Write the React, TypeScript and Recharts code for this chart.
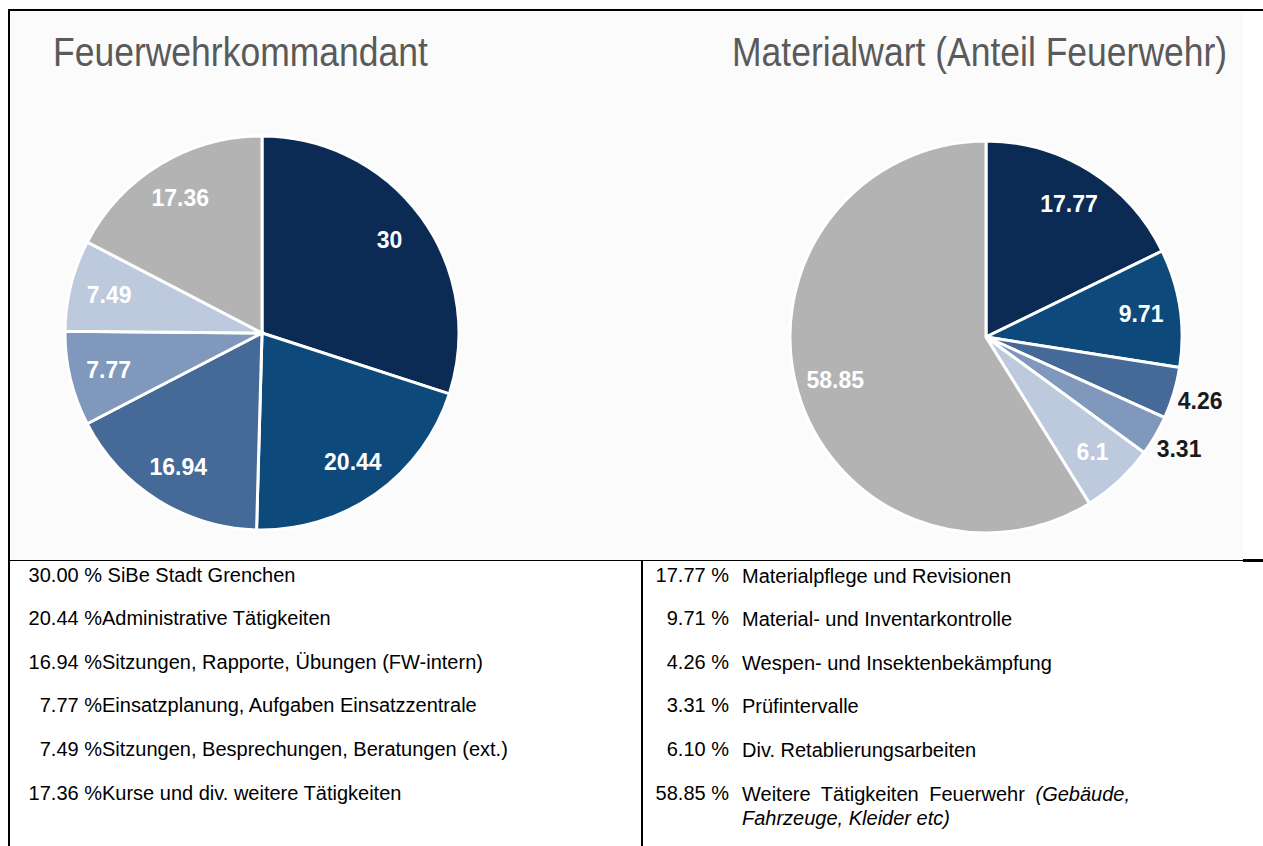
import React from 'react';
import { PieChart, Pie, Cell } from 'recharts';

// Feuerwehrkommandant
const kommandantValues = [30, 20.44, 16.94, 7.77, 7.49, 17.36];
const kommandantTasks = [
  '\u00a0SiBe Stadt Grenchen',
  'Administrative Tätigkeiten',
  'Sitzungen, Rapporte, Übungen (FW-intern)',
  'Einsatzplanung, Aufgaben Einsatzzentrale',
  'Sitzungen, Besprechungen, Beratungen (ext.)',
  'Kurse und div. weitere Tätigkeiten',
];

// Materialwart (Anteil Feuerwehr)
const materialValues = [17.77, 9.71, 4.26, 3.31, 6.1, 58.85];
const materialTasks = [
  'Materialpflege und Revisionen',
  'Material- und Inventarkontrolle',
  'Wespen- und Insektenbekämpfung',
  'Prüfintervalle',
  'Div. Retablierungsarbeiten',
  'Weitere Tätigkeiten Feuerwehr',
];
const materialNotes = ['', '', '', '', '', '(Gebäude, Fahrzeuge, Kleider etc)'];

const sliceColors = ['#0b2b55', '#0d4a7b', '#466a97', '#7f98bc', '#bdc9dd', '#b3b3b3'];

const FONT = '"Liberation Sans", Arial, Helvetica, sans-serif';
const RADIAN = Math.PI / 180;

const renderLabel = (props: any) => {
  const { cx, cy, midAngle, outerRadius, value } = props;
  const outside = value < 5;
  const r = outside ? outerRadius * 1.14 : outerRadius * 0.8;
  const x = cx + r * Math.cos(-midAngle * RADIAN);
  const y = cy + r * Math.sin(-midAngle * RADIAN);
  return (
    <text
      x={x}
      y={y}
      fill={outside ? '#1a1a1a' : '#ffffff'}
      textAnchor="middle"
      dominantBaseline="central"
      style={{ fontFamily: FONT, fontWeight: 700, fontSize: 23 }}
    >
      {value}
    </text>
  );
};

const SmallPie = ({ values, cx, cy, r }: { values: number[]; cx: number; cy: number; r: number }) => {
  const data = values.map((v, i) => ({ name: String(i), value: v }));
  const size = 540;
  return (
    <div style={{ position: 'absolute', left: cx - size / 2, top: cy - size / 2 }}>
      <PieChart width={size} height={size} margin={{ top: 0, right: 0, bottom: 0, left: 0 }}>
        <Pie
          data={data}
          dataKey="value"
          cx="50%"
          cy="50%"
          outerRadius={r}
          startAngle={90}
          endAngle={-270}
          stroke="#ffffff"
          strokeWidth={3}
          label={renderLabel}
          labelLine={false}
          isAnimationActive={false}
        >
          {data.map((d, i) => (
            <Cell key={d.name} fill={sliceColors[i]} />
          ))}
        </Pie>
      </PieChart>
    </div>
  );
};

const line = (left: number, top: number, width: number, height: number) => (
  <div style={{ position: 'absolute', left, top, width, height, background: '#000' }} />
);

const rowTop = (i: number) => 575 + i * 43.6 - 11.5;

const App: React.FC = () => {
  return (
    <div style={{ position: 'absolute', left: 0, top: 0, width: 1263, height: 846, fontFamily: FONT, background: '#fff', overflow: 'hidden' }}>
      <div style={{ position: 'absolute', left: 11, top: 11, width: 1232, height: 549, background: '#fbfbfb' }} />

      <div style={{ position: 'absolute', left: 53, top: 35, fontSize: 35.5, lineHeight: '40px', color: '#5a5a5a', transform: 'scaleY(1.15)', transformOrigin: 'left bottom', whiteSpace: 'nowrap' }}>
        Feuerwehrkommandant
      </div>
      <div style={{ position: 'absolute', left: 732, top: 35, fontSize: 35.5, lineHeight: '40px', color: '#5a5a5a', transform: 'scaleY(1.15)', transformOrigin: 'left bottom', whiteSpace: 'nowrap' }}>
        Materialwart (Anteil Feuerwehr)
      </div>

      <SmallPie values={kommandantValues} cx={262} cy={333} r={197} />
      <SmallPie values={materialValues} cx={986} cy={337} r={196} />

      {line(8, 9, 1255, 2)}
      {line(8, 9, 2, 837)}
      {line(8, 560, 1255, 1)}
      {line(1243, 559, 20, 3)}
      {line(641, 561, 2, 285)}

      {kommandantValues.map((v, i) => (
        <div key={'k' + i} style={{ position: 'absolute', left: 28, top: rowTop(i), fontSize: 20, lineHeight: '23px', color: '#000', whiteSpace: 'nowrap' }}>
          <span style={{ display: 'inline-block', width: 74, textAlign: 'right' }}>{v.toFixed(2) + ' %'}</span>
          {kommandantTasks[i]}
        </div>
      ))}

      {materialValues.map((v, i) => (
        <React.Fragment key={'m' + i}>
          <div style={{ position: 'absolute', left: 630, width: 99, top: rowTop(i), fontSize: 20, lineHeight: '23px', textAlign: 'right', whiteSpace: 'nowrap' }}>
            {v.toFixed(2) + ' %'}
          </div>
          <div style={{ position: 'absolute', left: 742, width: 388, top: rowTop(i), fontSize: 20, lineHeight: '24px', textAlign: 'justify' }}>
            {materialNotes[i] ? (
              <>
                {materialTasks[i] + ' '}
                <i>{materialNotes[i]}</i>
              </>
            ) : (
              materialTasks[i]
            )}
          </div>
        </React.Fragment>
      ))}
    </div>
  );
};

export default App;
